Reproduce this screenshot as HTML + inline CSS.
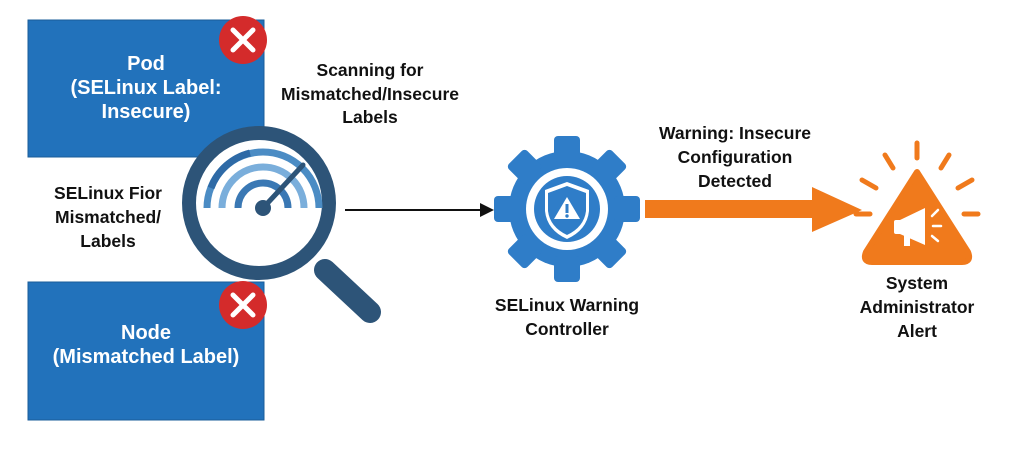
<!DOCTYPE html>
<html><head><style>
body{margin:0;width:1024px;height:444px;background:#fff;overflow:hidden;font-family:"Liberation Sans",sans-serif}
</style></head><body>
<svg width="1024" height="444" viewBox="0 0 1024 444" font-family="Liberation Sans, sans-serif" font-weight="bold">
<rect x="28" y="20" width="236" height="137" fill="#2272bb" stroke="#1a5c9a" stroke-width="1"/>
<rect x="28" y="282" width="236" height="138" fill="#2272bb" stroke="#1a5c9a" stroke-width="1"/>
<g fill="#fff" font-size="20" text-anchor="middle">
<text x="146" y="70">Pod</text>
<text x="146" y="94">(SELinux Label:</text>
<text x="146" y="118">Insecure)</text>
<text x="146" y="339">Node</text>
<text x="146" y="363">(Mismatched Label)</text>
</g>
<g>
<circle cx="243" cy="40" r="24" fill="#d42b2b"/>
<path d="M233 30L253 50M253 30L233 50" stroke="#fff" stroke-width="5" stroke-linecap="round"/>
<circle cx="243" cy="305" r="24" fill="#d42b2b"/>
<path d="M233 295L253 315M253 295L233 315" stroke="#fff" stroke-width="5" stroke-linecap="round"/>
</g>
<!-- magnifier -->
<line x1="325" y1="270" x2="370" y2="312" stroke="#2d5478" stroke-width="22" stroke-linecap="round"/>
<circle cx="259" cy="203" r="70" fill="#fff" stroke="#2d5478" stroke-width="14"/>
<g fill="none" stroke-width="7">
<path d="M207 208A56 56 0 0 1 319 208" stroke="#4b8cc4"/>
<path d="M222 208A41 41 0 0 1 304 208" stroke="#7aaedb" />
<path d="M238 208A25 25 0 0 1 288 208" stroke="#3a78b4"/>
<path d="M211 188A56 56 0 0 1 250 153" stroke="#2e6aa6"/>
</g>
<line x1="263" y1="208" x2="303" y2="165" stroke="#2d5478" stroke-width="5" stroke-linecap="round"/>
<circle cx="263" cy="208" r="8" fill="#2d5478"/>
<g fill="#111" font-size="17.5" text-anchor="middle">
<text x="108" y="199">SELinux Fior</text>
<text x="108" y="223">Mismatched/</text>
<text x="108" y="247">Labels</text>
<text x="370" y="76">Scanning for</text>
<text x="370" y="100">Mismatched/Insecure</text>
<text x="370" y="123">Labels</text>
<text x="735" y="139">Warning: Insecure</text>
<text x="735" y="163">Configuration</text>
<text x="735" y="187">Detected</text>
<text x="567" y="311">SELinux Warning</text>
<text x="567" y="335">Controller</text>
<text x="917" y="289">System</text>
<text x="917" y="313">Administrator</text>
<text x="917" y="337">Alert</text>
</g>
<line x1="345" y1="210" x2="482" y2="210" stroke="#111" stroke-width="2"/>
<path d="M494 210L480 203L480 217Z" fill="#111"/>
<!-- gear -->
<g transform="translate(567,209)" fill="#2f7dc8">
<circle r="58"/>
<g id="t"><rect x="-13" y="-73" width="26" height="26" rx="4"/></g>
<use href="#t" transform="rotate(45)"/><use href="#t" transform="rotate(90)"/><use href="#t" transform="rotate(135)"/>
<use href="#t" transform="rotate(180)"/><use href="#t" transform="rotate(225)"/><use href="#t" transform="rotate(270)"/><use href="#t" transform="rotate(315)"/>
<circle r="41" fill="#fff"/>
<circle r="33"/>
<path d="M0 -27L22 -19L22 2Q20 21 0 30Q-20 21 -22 2L-22 -19Z" fill="#fff"/>
<path d="M0 -23L19 -16L19 2Q17 18 0 26Q-17 18 -19 2L-19 -16Z" fill="#2f7dc8"/>
<path d="M0 -12L13 10L-13 10Z" fill="#fff"/>
<rect x="-1.5" y="-5" width="3" height="9" fill="#2f7dc8"/>
<circle cy="7" r="1.7" fill="#2f7dc8"/>
</g>
<!-- orange arrow -->
<rect x="645" y="200" width="170" height="18" fill="#f07a1c"/>
<path d="M812 187L862 210L812 232Z" fill="#f07a1c"/>
<!-- alert -->
<path d="M917 172L968 252Q972 262 962 262L872 262Q862 262 866 252Z" fill="#f07a1c" stroke="#f07a1c" stroke-width="6" stroke-linejoin="round"/>
<g stroke="#f07a1c" stroke-width="5" stroke-linecap="round">
<line x1="917" y1="143" x2="917" y2="158"/>
<line x1="885" y1="155" x2="893" y2="168"/>
<line x1="949" y1="155" x2="941" y2="168"/>
<line x1="862" y1="180" x2="876" y2="188"/>
<line x1="972" y1="180" x2="958" y2="188"/>
<line x1="856" y1="214" x2="870" y2="214"/>
<line x1="964" y1="214" x2="978" y2="214"/>
</g>
<g fill="#fff">
<path d="M900 220L925 208L925 245L900 234Z"/>
<rect x="894" y="220" width="9" height="14" rx="2"/>
<rect x="904" y="234" width="6" height="12"/>
</g>
<g stroke="#fff" stroke-width="2.5" stroke-linecap="round">
<line x1="932" y1="216" x2="938" y2="210"/><line x1="933" y1="226" x2="941" y2="226"/><line x1="932" y1="236" x2="938" y2="241"/>
</g>
</svg>
</body></html>
